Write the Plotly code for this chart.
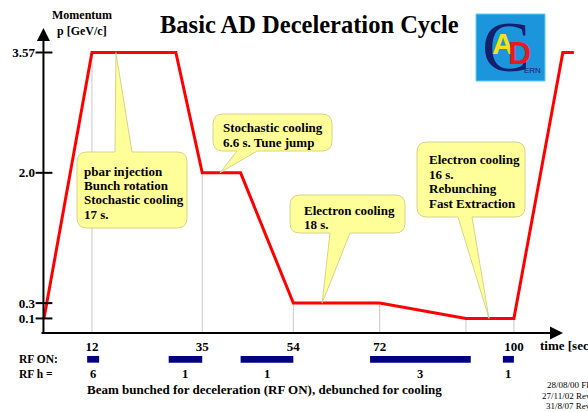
import numpy as np
import plotly.graph_objects as go

# ---------------- data ----------------
time_s = [2, 12, 29.5, 35, 43, 54, 72, 90, 100, 110.2, 112.5]
momentum = [0.1, 3.57, 3.57, 2.0, 2.0, 0.3, 0.3, 0.1, 0.1, 3.57, 3.57]
mark_times = [12, 35, 54, 72, 90, 100]
x_tick_vals = [12, 35, 54, 72, 100]
x_tick_text = ["12", "35", "54", "72", "100"]
y_tick_vals = [0.1, 0.3, 2.0, 3.57]
y_tick_text = ["0.1", "0.3", "2.0", "3.57"]
rf_start = [11, 28, 43, 70, 97.7]
rf_end = [13.5, 35, 54, 91, 100]
rf_h = ["6", "1", "1", "3", "1"]
callout_texts = [
    ["pbar injection", "Bunch rotation", "Stochastic cooling", "17 s."],
    ["Stochastic cooling", "6.6 s. Tune jump"],
    ["Electron cooling", "18 s."],
    ["Electron cooling", "16 s.", "Rebunching", "Fast Extraction"],
]
callout_tip_t = [17, 38.7, 60, 94.8]

# ---------------- geometry ----------------
W, H = 588, 412
ML, MT = 44, 20
PW, PH = W - ML, H - MT
AXIS_PY = 333
PXU_X = 4.795
PXU_Y = 76.64
X0 = 2.0
X1 = X0 + PW / PXU_X
Y0 = -0.09
Y1 = Y0 + (AXIS_PY - MT) / PXU_Y
DOM_B = (H - AXIS_PY) / PH

def px_t(px):
    return X0 + (px - ML) / PXU_X

def py_v(py):
    return Y0 + (AXIS_PY - py) / PXU_Y

def ppx(px):
    return (px - ML) / PW

def ppy(py):
    return (H - py) / PH

SERIF = "Liberation Serif, Times New Roman, serif"
BLACK = "#000000"

fig = go.Figure()

# drop lines
mark_vals = np.interp(mark_times, time_s, momentum)
for t, v in zip(mark_times, mark_vals):
    fig.add_trace(go.Scatter(x=[t, t], y=[v, Y0], mode="lines",
                             line=dict(color="#c8c8c8", width=1),
                             hoverinfo="skip", showlegend=False))

# momentum profile
fig.add_trace(go.Scatter(x=time_s, y=momentum, mode="lines",
                         line=dict(color="#ff0000", width=3),
                         hoverinfo="skip", showlegend=False))

# y-axis tick marks crossing the axis
fig.add_trace(go.Scatter(x=[X0] * len(y_tick_vals), y=y_tick_vals, mode="markers",
                         marker=dict(symbol="line-ew", size=12,
                                     line=dict(color=BLACK, width=2)),
                         cliponaxis=False, hoverinfo="skip", showlegend=False))

# RF ON bars
fig.add_trace(go.Bar(x=[e - s for s, e in zip(rf_start, rf_end)], base=rf_start,
                     y=[0] * len(rf_start), orientation="h", width=6.7,
                     marker=dict(color="#000080", line=dict(width=0)),
                     xaxis="x", yaxis="y2", hoverinfo="skip", showlegend=False))

shapes = []
annotations = []

# callouts
def callout(box, side, base, tip):
    x0, y0, x1, y1 = box
    r = 10
    def P(px, py):
        return f"{px_t(px):.4f},{py_v(py):.4f}"
    tp = f"{tip[0]:.4f},{tip[1]:.4f}"
    d = f"M{P(x0 + r, y0)}"
    if side == "top":
        d += f" L{P(base[0], y0)} L{tp} L{P(base[1], y0)}"
    d += f" L{P(x1 - r, y0)} Q{P(x1, y0)} {P(x1, y0 + r)}"
    d += f" L{P(x1, y1 - r)} Q{P(x1, y1)} {P(x1 - r, y1)}"
    if side == "bottom":
        d += f" L{P(base[1], y1)} L{tp} L{P(base[0], y1)}"
    d += f" L{P(x0 + r, y1)} Q{P(x0, y1)} {P(x0, y1 - r)}"
    d += f" L{P(x0, y0 + r)} Q{P(x0, y0)} {P(x0 + r, y0)} Z"
    return dict(type="path", path=d, xref="x", yref="y", layer="above",
                fillcolor="#ffff99", line=dict(color="#d9d28a", width=1))

boxes = [(77, 152, 187, 228), (213, 114, 332, 151), (290, 195, 405, 233), (417, 142, 525, 217)]
sides = ["top", "bottom", "bottom", "bottom"]
bases = [(115, 132), (237, 257), (330, 350), (458, 472)]
text_x = [82, 221, 302, 427]
text_y = [[171, 185.5, 200, 214.5], [127, 142], [210, 224], [159, 174, 188, 203]]
tip_v = np.interp(callout_tip_t, time_s, momentum)
for i in range(4):
    shapes.append(callout(boxes[i], sides[i], bases[i], (callout_tip_t[i], tip_v[i])))
    for line, py in zip(callout_texts[i], text_y[i]):
        annotations.append(dict(text=f"<b>{line}</b>", xref="paper", yref="paper",
                                x=ppx(text_x[i]), y=ppy(py), xanchor="left", yanchor="middle",
                                showarrow=False, font=dict(family=SERIF, size=13, color=BLACK)))

# axes arrows
annotations.append(dict(text="", xref="x domain", yref="y domain",
                        x=(563 - ML) / PW, y=0, ax=-(563 - 40), ay=0,
                        showarrow=True, arrowhead=2, arrowsize=1.3, arrowwidth=2,
                        arrowcolor=BLACK, standoff=0))
annotations.append(dict(text="", xref="x domain", yref="y domain",
                        x=-0.001, y=(AXIS_PY - 28) / (AXIS_PY - MT), ax=0, ay=307,
                        showarrow=True, arrowhead=2, arrowsize=1.3, arrowwidth=2,
                        arrowcolor=BLACK, standoff=0))

# titles / labels
def label(text, px, py, size, xanchor="center", bold=True, color=BLACK, family=SERIF):
    annotations.append(dict(text=(f"<b>{text}</b>" if bold else text),
                            xref="paper", yref="paper", x=ppx(px), y=ppy(py),
                            xanchor=xanchor, yanchor="middle", showarrow=False,
                            font=dict(family=family, size=size, color=color)))

label("Basic AD Deceleration Cycle", 309, 24, 24.5)
label("Momentum", 82, 15, 12)
label("p [GeV/c]", 82, 31, 12)
label("time [sec]", 538, 345, 13, xanchor="left")
label("RF ON:", 17, 359, 11.5, xanchor="left")
label("RF h =", 17, 374, 11.5, xanchor="left")
label("Beam bunched for deceleration (RF ON), debunched for cooling", 264, 389, 13)
label("28/08/00 FP", 545, 385, 9, xanchor="left", bold=False)
label("27/11/02 Rev.", 540, 396, 9, xanchor="left", bold=False)
label("31/8/07 Rev.", 544, 406, 9, xanchor="left", bold=False)

# RF harmonic numbers
for s, e, h in zip(rf_start, rf_end, rf_h):
    annotations.append(dict(text=f"<b>{h}</b>", xref="x", yref="paper",
                            x=(s + e) / 2, y=ppy(374), xanchor="center", yanchor="middle",
                            showarrow=False, font=dict(family=SERIF, size=12.5, color=BLACK)))

# CERN AD logo (approximation)
shapes.append(dict(type="rect", xref="paper", yref="paper",
                   x0=ppx(476), x1=ppx(545), y0=ppy(81), y1=ppy(14),
                   fillcolor="#1b96dc", line=dict(color="#5cd0f5", width=1), layer="above"))
annotations.append(dict(text="C", xref="paper", yref="paper", x=ppx(506), y=ppy(47),
                        xanchor="center", yanchor="middle", showarrow=False,
                        font=dict(family=SERIF, size=72, color="#14206e")))
annotations.append(dict(text="<b>A</b>", xref="paper", yref="paper", x=ppx(503), y=ppy(44),
                        xanchor="center", yanchor="middle", showarrow=False,
                        font=dict(family="Liberation Sans, Arial, sans-serif", size=30, color="#f5e21c")))
annotations.append(dict(text="<b>D</b>", xref="paper", yref="paper", x=ppx(519), y=ppy(53),
                        xanchor="center", yanchor="middle", showarrow=False,
                        font=dict(family="Liberation Sans, Arial, sans-serif", size=32, color="#e81a1a")))
annotations.append(dict(text="ERN", xref="paper", yref="paper", x=ppx(532), y=ppy(70),
                        xanchor="center", yanchor="middle", showarrow=False,
                        font=dict(family="Liberation Sans, Arial, sans-serif", size=8, color="#14206e")))

fig.update_layout(
    width=W, height=H,
    margin=dict(l=ML, r=0, t=MT, b=0, autoexpand=False),
    paper_bgcolor="white", plot_bgcolor="white",
    showlegend=False, hovermode=False,
    xaxis=dict(range=[X0, X1], anchor="y", showgrid=False, zeroline=False, showline=False,
               automargin=False, fixedrange=True,
               tickvals=x_tick_vals, ticktext=[f"<b>{t}</b>" for t in x_tick_text],
               ticks="", ticklabelstandoff=4,
               tickfont=dict(family=SERIF, size=13, color=BLACK)),
    yaxis=dict(range=[Y0, Y1], domain=[DOM_B, 1], anchor="x", showgrid=False,
               zeroline=False, showline=False, automargin=False, fixedrange=True,
               tickvals=y_tick_vals, ticktext=[f"<b>{t}</b>" for t in y_tick_text],
               ticks="", ticklabelstandoff=8,
               tickfont=dict(family=SERIF, size=13, color=BLACK)),
    yaxis2=dict(range=[-52.7, 26.3], domain=[0, DOM_B], anchor="x", showgrid=False,
                zeroline=False, showline=False, showticklabels=False, ticks="",
                automargin=False, fixedrange=True),
    shapes=shapes,
    annotations=annotations,
)

fig.write_html(
    "out.html",
    config={"displayModeBar": False},
    post_script="document.body.style.margin='0px';document.body.style.overflow='hidden';",
)
